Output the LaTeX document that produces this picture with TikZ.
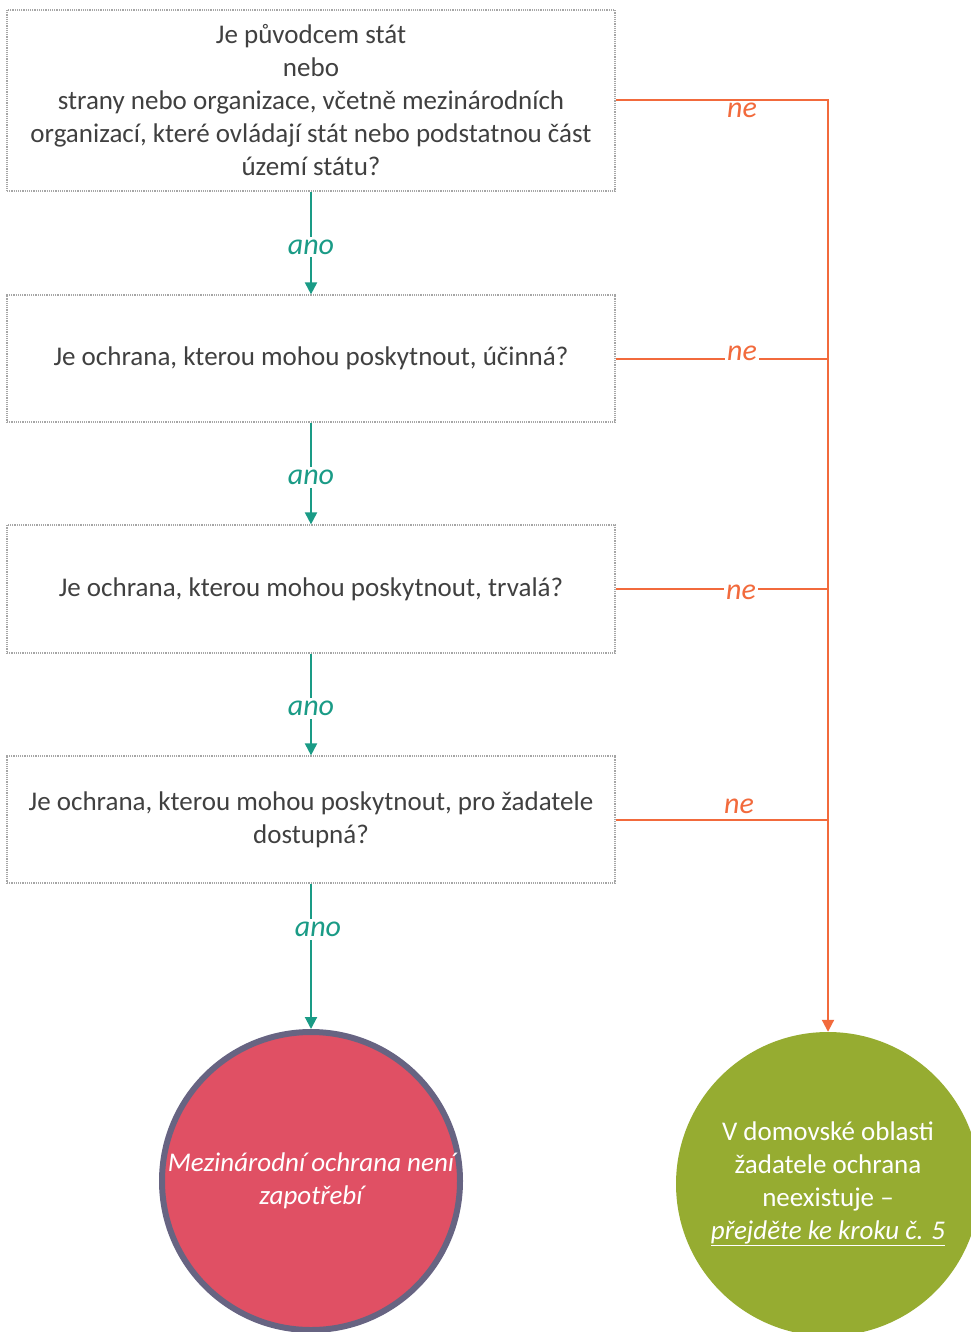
\documentclass[tikz,border=0pt]{standalone}
\usepackage{fontspec}
\setmainfont{Carlito}
\usetikzlibrary{arrows.meta,positioning}
\definecolor{boxline}{HTML}{A6A6A6}
\definecolor{txt}{HTML}{404040}
\definecolor{teal}{HTML}{1A9B86}
\definecolor{orng}{HTML}{F26A3C}
\definecolor{redc}{HTML}{E05064}
\definecolor{redb}{HTML}{676482}
\definecolor{grnc}{HTML}{96AC31}
\tikzset{
  qbox/.style={draw=boxline, densely dotted, line width=1.2pt, minimum width=608pt, align=center, text=txt, font=\fontsize{27}{33}\selectfont, inner sep=0pt},
  yes/.style={draw=teal, line width=2pt, -{Triangle[width=12pt,length=12pt]}},
  no/.style={draw=orng, line width=2pt},
  yeslbl/.style={fill=white, text=teal, font=\fontsize{30}{30}\selectfont\itshape, inner sep=3pt, yshift=-4pt},
  nolbl/.style={fill=white, text=orng, font=\fontsize{30}{30}\selectfont\itshape, inner sep=2pt},
  endc/.style={circle, minimum size=304pt, inner sep=0pt, text=white, align=center, font=\fontsize{27}{33}\selectfont}
}
\begin{document}
\begin{tikzpicture}[x=1pt,y=1pt]
\useasboundingbox (0,0) rectangle (970,-1332);
\node[qbox, minimum height=181pt] (b1) at (311,-100.5) {Je původcem stát\\nebo\\strany nebo organizace, včetně mezinárodních\\organizací, které ovládají stát nebo podstatnou část\\území státu?};
\node[qbox, minimum height=127pt] (b2) at (311,-358.5) {Je ochrana, kterou mohou poskytnout, účinná?};
\node[qbox, minimum height=128pt] (b3) at (311,-589) {Je ochrana, kterou mohou poskytnout, trvalá?};
\node[qbox, minimum height=127pt] (b4) at (311,-819.5) {Je ochrana, kterou mohou poskytnout, pro žadatele\\dostupná?};
\node[endc, fill=redc, draw=redb, line width=6pt, minimum size=298pt] (r) at (311,-1181) {\itshape Mezinárodní ochrana není\\\itshape zapotřebí};
\node[endc, fill=grnc] (g) at (828,-1184) {V domovské oblasti\\žadatele ochrana\\neexistuje –\\\itshape\underline{přejděte ke kroku č. 5}};
% yes arrows
\draw[yes] (b1.south) -- node[yeslbl, pos=0.5] {ano} (b2.north);
\draw[yes] (b2.south) -- node[yeslbl, pos=0.5] {ano} (b3.north);
\draw[yes] (b3.south) -- node[yeslbl, pos=0.5] {ano} (b4.north);
\draw[yes] (b4.south) -- node[yeslbl, pos=0.29, xshift=7pt] {ano} (r.north);
% no lines
\draw[no, -{Triangle[width=12pt,length=12pt]}] (b1.east) -| (g.north);
\draw[no] (b2.east) -- (b2.east -| g.north);
\draw[no] (b3.east) -- (b3.east -| g.north);
\draw[no] (b4.east) -- (b4.east -| g.north);
\node[nolbl] (n1) at (742,-110) {ne};
\node[nolbl] (n2) at (742,-353) {ne};
\node[nolbl] (n3) at (741,-592) {ne};
\node[nolbl] (n4) at (739,-806) {ne};
\end{tikzpicture}
\end{document}
